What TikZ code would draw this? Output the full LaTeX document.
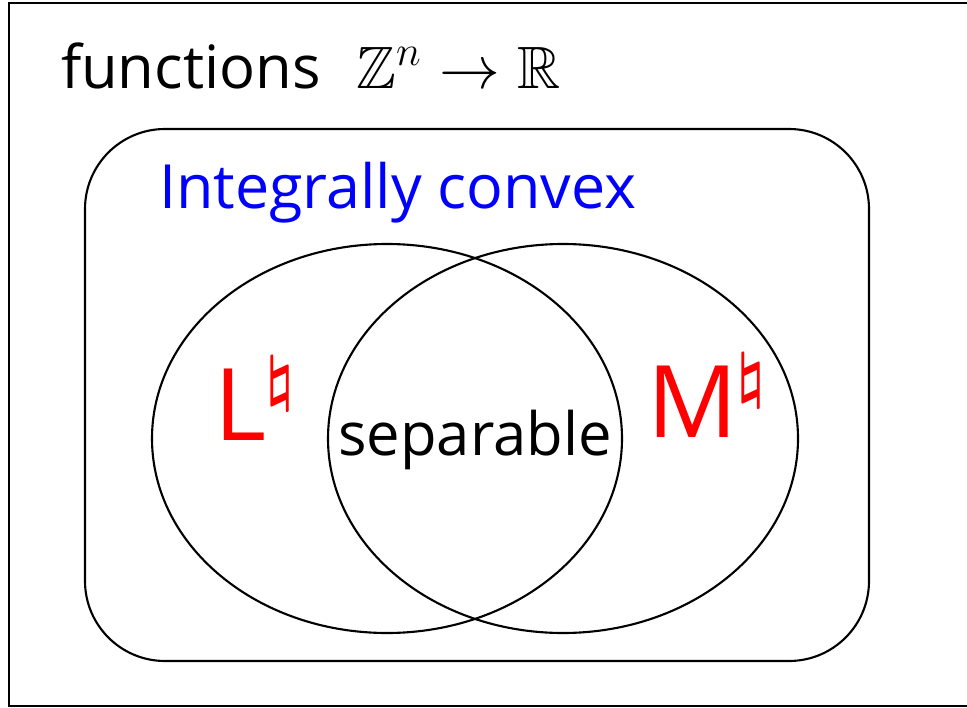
\documentclass[tikz,border=0pt]{standalone}
\usepackage{fontspec}
\usepackage{amssymb}
\setmainfont{Open Sans}
\usetikzlibrary{positioning, shapes.geometric}
\definecolor{cblue}{HTML}{0000FF}
\definecolor{cred}{HTML}{FF0000}
\newcommand{\nat}{\raisebox{11.5pt}{\fontsize{17.5}{17}\selectfont\boldmath$\natural$}}
\tikzset{
  every picture/.style={line width=0.6pt},
  venn/.style={draw, ellipse, minimum width=4.70cm, minimum height=3.89cm, inner sep=0pt},
  label/.style={font=\fontsize{17}{20}\selectfont, inner sep=0pt},
  big/.style={font=\fontsize{28.5}{32}\selectfont, text=cred, inner sep=0pt},
}
\begin{document}
\begin{tikzpicture}[x=1cm, y=1cm]
  \useasboundingbox (0,0) rectangle (9.67,-7.07);
  % outer frame, cut off on the right
  \draw[line width=0.8pt] (9.67,-0.03) -- (0.09,-0.03) -- (0.09,-7.06) -- (9.67,-7.06);
  \node[label, anchor=base west] (title) at (0.60,-0.88)
    {functions\hspace{0.6em}$\mathbb{Z}^n \to \mathbb{R}$};
  % integrally convex box
  \node[draw, rounded corners=0.8cm, minimum width=7.84cm, minimum height=5.32cm,
    inner sep=0pt] (icbox) at (4.77,-3.95) {};
  \node[label, text=cblue, anchor=base west, font=\fontsize{17.35}{20}\selectfont]
    (ic) at (1.58,-2.08) {Integrally convex};
  % the two classes
  \node[venn] (lset) at (3.87,-4.385) {};
  \node[venn] (mset) at (5.63,-4.385) {};
  \node[label] (sep) at (4.75,-4.40) {separable};
  \node[big, anchor=base west] (lnat) at (2.13,-4.40) {L\nat};
  \node[big, anchor=base west] (mnat) at (6.46,-4.37) {M\nat};
\end{tikzpicture}
\end{document}
